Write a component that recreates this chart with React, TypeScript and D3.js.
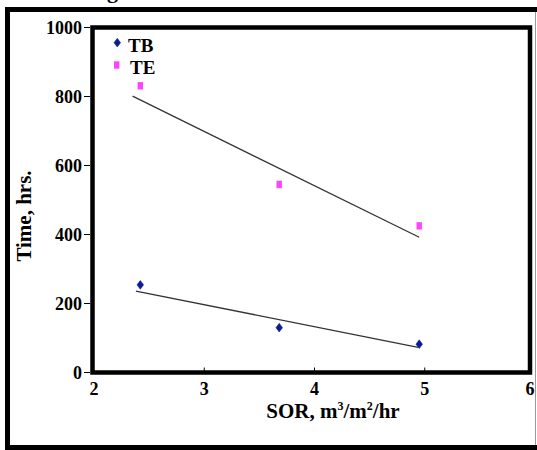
import * as d3 from "d3";

// ── Data ──────────────────────────────────────────────────────
const SOR = [2.42, 3.68, 4.95];
const TB = [254, 130, 82];
const TE = [831, 545, 425];

// trend lines as drawn in the figure (start/end)
const TB_FIT_X = [2.38, 4.94];
const TB_FIT_Y = [236, 73];
const TE_FIT_X = [2.35, 4.95];
const TE_FIT_Y = [801, 392];

const X_TICKS = [2, 3, 4, 5, 6];
const Y_TICKS = [0, 200, 400, 600, 800, 1000];

// ── Geometry ──────────────────────────────────────────────────
const W = 537;
const H = 450;
const FRAME = { left: 92.5, top: 27.5, right: 530, bottom: 372.5 };
const FONT = "'Liberation Serif', 'Times New Roman', serif";
const BLUE = "#0b1d8f";
const PINK = "#ff44ff";

export default function App() {
  const x = d3.scaleLinear().domain([2, 6]).range([94, 535]);
  const y = d3.scaleLinear().domain([0, 1000]).range([FRAME.bottom, FRAME.top]);
  const line = d3
    .line<[number, number]>()
    .x((d) => x(d[0]))
    .y((d) => y(d[1]));

  const tbFit = TB_FIT_X.map((v, i) => [v, TB_FIT_Y[i]] as [number, number]);
  const teFit = TE_FIT_X.map((v, i) => [v, TE_FIT_Y[i]] as [number, number]);
  const diamond = d3.symbol(d3.symbolDiamond, 34)();

  return (
    <svg
      width={W}
      height={H}
      style={{ position: "absolute", left: 0, top: 0, background: "#fff" }}
      fontFamily={FONT}
      fontWeight="bold"
    >
      {/* caption fragment cut off at the top */}
      <text x={118} y={-2} fontSize={22} textAnchor="end" fill="#000">
        Fig
      </text>

      {/* outer frame */}
      <rect x={7.5} y={9.5} width={560} height={438} fill="none" stroke="#000" strokeWidth={5} />
      <line x1={535.5} x2={535.5} y1={12} y2={445} stroke="#999" strokeWidth={1} />

      {/* plot frame */}
      <rect
        x={FRAME.left}
        y={FRAME.top}
        width={FRAME.right - FRAME.left}
        height={FRAME.bottom - FRAME.top}
        fill="none"
        stroke="#000"
        strokeWidth={4.5}
      />

      {/* y ticks */}
      {Y_TICKS.map((t) => (
        <g key={`yt-${t}`}>
          <line x1={84} x2={90} y1={y(t)} y2={y(t)} stroke="#000" strokeWidth={1} />
          <text x={82} y={y(t) + 6} fontSize={18} textAnchor="end">
            {t}
          </text>
        </g>
      ))}

      {/* x ticks */}
      {X_TICKS.map((t) => (
        <g key={`xt-${t}`}>
          {t > 2 && t < 6 && (
            <line x1={x(t)} x2={x(t)} y1={FRAME.bottom - 5} y2={FRAME.bottom} stroke="#000" strokeWidth={1} />
          )}
          <text x={Math.min(x(t), 530)} y={395} fontSize={18} textAnchor="middle">
            {t}
          </text>
        </g>
      ))}

      {/* axis titles */}
      <text x={333} y={418} fontSize={21} textAnchor="middle">
        SOR, m<tspan dy={-8} fontSize={12}>3</tspan>
        <tspan dy={8}>/m</tspan>
        <tspan dy={-8} fontSize={12}>2</tspan>
        <tspan dy={8}>/hr</tspan>
      </text>
      <text
        x={0}
        y={0}
        fontSize={21}
        textAnchor="middle"
        transform={`translate(31, 216) rotate(-90)`}
      >
        Time, hrs.
      </text>

      {/* trend lines */}
      <path d={line(teFit) ?? ""} fill="none" stroke="#333" strokeWidth={1.3} />
      <path d={line(tbFit) ?? ""} fill="none" stroke="#333" strokeWidth={1.3} />

      {/* data */}
      {SOR.map((s, i) => (
        <path
          key={`tb-${i}`}
          d={diamond ?? ""}
          transform={`translate(${x(s)}, ${y(TB[i])}) scale(1.05, 0.8)`}
          fill={BLUE}
          stroke={BLUE}
          strokeWidth={0.6}
          strokeLinejoin="round"
        />
      ))}
      {SOR.map((s, i) => (
        <rect key={`te-${i}`} x={x(s) - 2.7} y={y(TE[i]) - 3.7} width={5.4} height={7.4} fill={PINK} />
      ))}

      {/* legend */}
      <path
        d={diamond ?? ""}
        transform="translate(117.3, 42.7) scale(1.05, 0.8)"
        fill={BLUE}
        stroke={BLUE}
        strokeWidth={0.6}
        strokeLinejoin="round"
      />
      <text x={128} y={51.5} fontSize={19}>
        TB
      </text>
      <rect x={114} y={61.3} width={5.4} height={7.4} fill={PINK} />
      <text x={130} y={74} fontSize={19}>
        TE
      </text>
    </svg>
  );
}
